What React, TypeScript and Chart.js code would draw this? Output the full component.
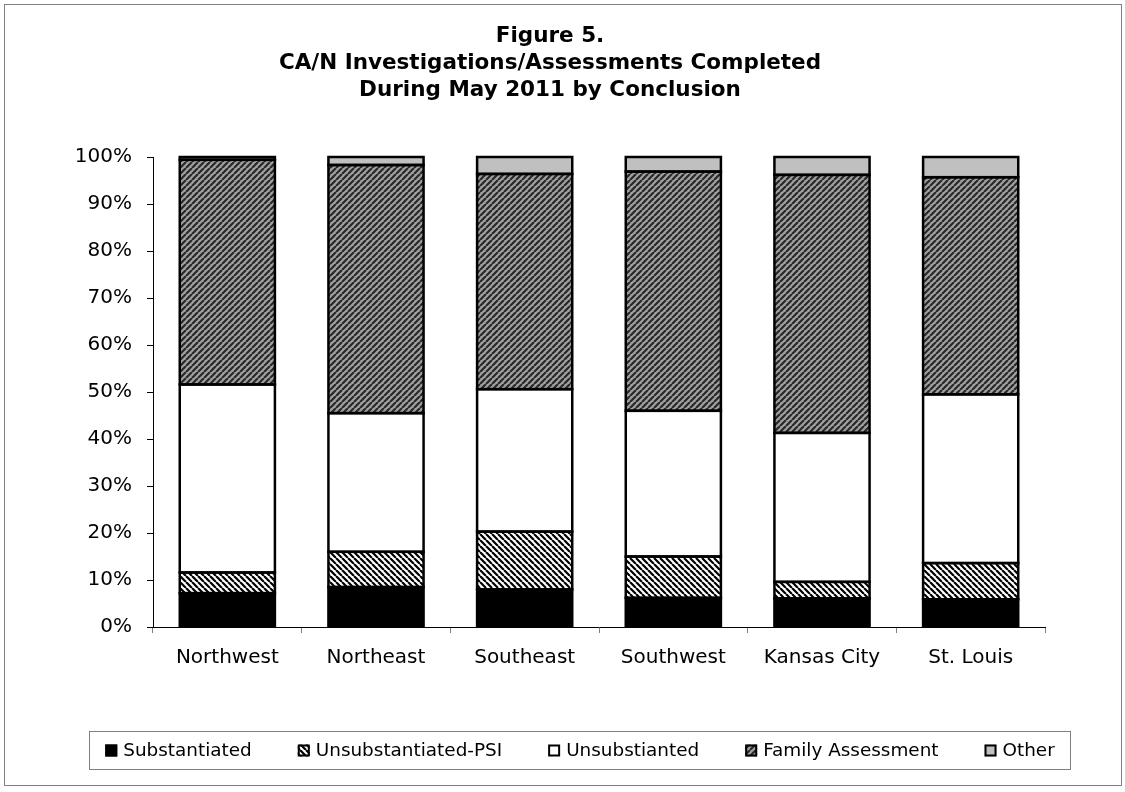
import React, { useEffect, useRef } from 'react';
import { Chart, registerables } from 'chart.js';

Chart.register(...registerables);

const categories = ['Northwest', 'Northeast', 'Southeast', 'Southwest', 'Kansas City', 'St. Louis'];
const substantiated = [7.2, 8.5, 8.0, 6.2, 6.1, 5.9];
const unsubstantiatedPSI = [4.4, 7.5, 12.3, 8.8, 3.5, 7.7];
const unsubstantiated = [40.0, 29.5, 30.3, 31.0, 31.7, 35.9];
const familyAssessment = [47.8, 52.8, 45.8, 50.9, 54.9, 46.2];
const other = [0.6, 1.7, 3.6, 3.1, 3.8, 4.3];
const seriesNames = ['Substantiated', 'Unsubstantiated-PSI', 'Unsubstianted', 'Family Assessment', 'Other'];
const titleLines = ['Figure 5.', 'CA/N Investigations/Assessments Completed', 'During May 2011 by Conclusion'];

const FONT = '"DejaVu Sans", Verdana, sans-serif';

function makeStripes(ctx: CanvasRenderingContext2D, bg: string, fg: string, dir: '/' | '\\', size: number, lw: number) {
  const c = document.createElement('canvas');
  c.width = size;
  c.height = size;
  const x = c.getContext('2d')!;
  x.fillStyle = bg;
  x.fillRect(0, 0, size, size);
  x.strokeStyle = fg;
  x.lineWidth = lw;
  x.beginPath();
  for (const o of [-size, 0, size]) {
    if (dir === '/') {
      x.moveTo(o, size);
      x.lineTo(o + size, 0);
    } else {
      x.moveTo(o, 0);
      x.lineTo(o + size, size);
    }
  }
  x.stroke();
  return ctx.createPattern(c, 'repeat') as CanvasPattern;
}

const framePlugin = {
  id: 'frame',
  beforeDraw(chart: any) {
    const { ctx, width, height } = chart;
    ctx.save();
    ctx.fillStyle = '#ffffff';
    ctx.fillRect(0, 0, width, height);
    ctx.restore();
  },
  afterDraw(chart: any) {
    const { ctx } = chart;
    ctx.save();
    ctx.strokeStyle = '#808080';
    ctx.lineWidth = 1;
    ctx.strokeRect(4.5, 4.5, 1117, 781);
    ctx.restore();
  },
};

const barOutlinePlugin = {
  id: 'barOutline',
  afterDatasetsDraw(chart: any) {
    const { ctx } = chart;
    ctx.save();
    ctx.strokeStyle = '#000000';
    ctx.lineWidth = 2.5;
    chart.data.datasets.forEach((_: any, i: number) => {
      const meta = chart.getDatasetMeta(i);
      meta.data.forEach((el: any) => {
        const p = el.getProps(['x', 'y', 'base', 'width'], true);
        const top = Math.min(p.y, p.base);
        const h = Math.abs(p.base - p.y);
        ctx.strokeRect(p.x - p.width / 2, top, p.width, h);
      });
    });
    ctx.restore();
  },
};

const titlePlugin = {
  id: 'customTitle',
  afterDraw(chart: any) {
    const { ctx } = chart;
    ctx.save();
    ctx.font = `bold 21.5px ${FONT}`;
    ctx.fillStyle = '#000';
    ctx.textAlign = 'center';
    ctx.textBaseline = 'alphabetic';
    const cx = 550;
    titleLines.forEach((t, i) => {
      ctx.fillText(t, cx, 42 + i * 26.8);
    });
    ctx.restore();
  },
};

const legendPlugin = {
  id: 'customLegend',
  afterDraw(chart: any) {
    const { ctx } = chart;
    ctx.save();
    ctx.font = `18.4px ${FONT}`;
    const box = 12;
    const gapText = 6;
    const gapItem = 46;
    const widths = seriesNames.map((n) => ctx.measureText(n).width);
    const total = widths.reduce((a, w) => a + box + gapText + w, 0) + gapItem * (seriesNames.length - 1);
    const center = 580;
    const top = 731.5;
    const bottom = 769.5;
    const midY = (top + bottom) / 2;
    let x = center - total / 2;
    const padX = 16;
    ctx.strokeStyle = '#808080';
    ctx.lineWidth = 1;
    ctx.strokeRect(Math.round(x - padX) + 0.5, top, Math.round(total + padX * 2), bottom - top);
    chart.data.datasets.forEach((ds: any, i: number) => {
      ctx.fillStyle = ds.backgroundColor;
      ctx.fillRect(x, midY - box / 2, box, box);
      ctx.strokeStyle = '#000';
      ctx.lineWidth = 2;
      ctx.strokeRect(x + 1, midY - box / 2 + 1, box - 2, box - 2);
      ctx.fillStyle = '#000';
      ctx.textAlign = 'left';
      ctx.textBaseline = 'middle';
      ctx.fillText(seriesNames[i], x + box + gapText, midY + 1);
      x += box + gapText + widths[i] + gapItem;
    });
    ctx.restore();
  },
};

export default function App() {
  const ref = useRef<HTMLCanvasElement | null>(null);

  useEffect(() => {
    const canvas = ref.current!;
    const ctx = canvas.getContext('2d')!;
    const psiPattern = makeStripes(ctx, '#ffffff', '#000000', '\\', 6, 2.2);
    const familyPattern = makeStripes(ctx, '#a0a0a0', '#282828', '/', 6, 2.2);

    const chart = new Chart(canvas, {
      type: 'bar',
      data: {
        labels: categories,
        datasets: [
          { label: seriesNames[0], data: substantiated, backgroundColor: '#000000' },
          { label: seriesNames[1], data: unsubstantiatedPSI, backgroundColor: psiPattern as any },
          { label: seriesNames[2], data: unsubstantiated, backgroundColor: '#ffffff' },
          { label: seriesNames[3], data: familyAssessment, backgroundColor: familyPattern as any },
          { label: seriesNames[4], data: other, backgroundColor: '#c0c0c0' },
        ],
      },
      options: {
        responsive: false,
        animation: false,
        events: [],
        layout: { padding: { left: 0, right: 80, top: 157, bottom: 105 } },
        datasets: {
          bar: { categoryPercentage: 1, barPercentage: 0.64, borderWidth: 0 },
        },
        plugins: {
          legend: { display: false },
          title: { display: false },
          tooltip: { enabled: false },
        },
        scales: {
          x: {
            stacked: true,
            afterFit: (s: any) => { s.height = 60; },
            grid: { display: true, drawOnChartArea: false, drawTicks: true, tickLength: 6, color: '#808080' },
            border: { display: true, color: '#000000', width: 1 },
            ticks: { color: '#000', font: { family: FONT, size: 20 }, padding: 13, maxRotation: 0 },
          },
          y: {
            stacked: true,
            min: 0,
            max: 100,
            afterFit: (s: any) => { s.width = 153; },
            grid: { display: true, drawOnChartArea: false, drawTicks: true, tickLength: 6, color: '#000000' },
            border: { display: true, color: '#000000', width: 1 },
            ticks: {
              stepSize: 10,
              color: '#000',
              font: { family: FONT, size: 20 },
              padding: 15,
              callback: (v: any) => `${v}%`,
            },
          },
        },
      },
      plugins: [framePlugin, barOutlinePlugin, titlePlugin, legendPlugin],
    });
    return () => chart.destroy();
  }, []);

  return (
    <div style={{ position: 'fixed', left: 0, top: 0, width: 1125, height: 792, background: '#fff' }}>
      <canvas ref={ref} width={1125} height={792} style={{ display: 'block' }} />
    </div>
  );
}
